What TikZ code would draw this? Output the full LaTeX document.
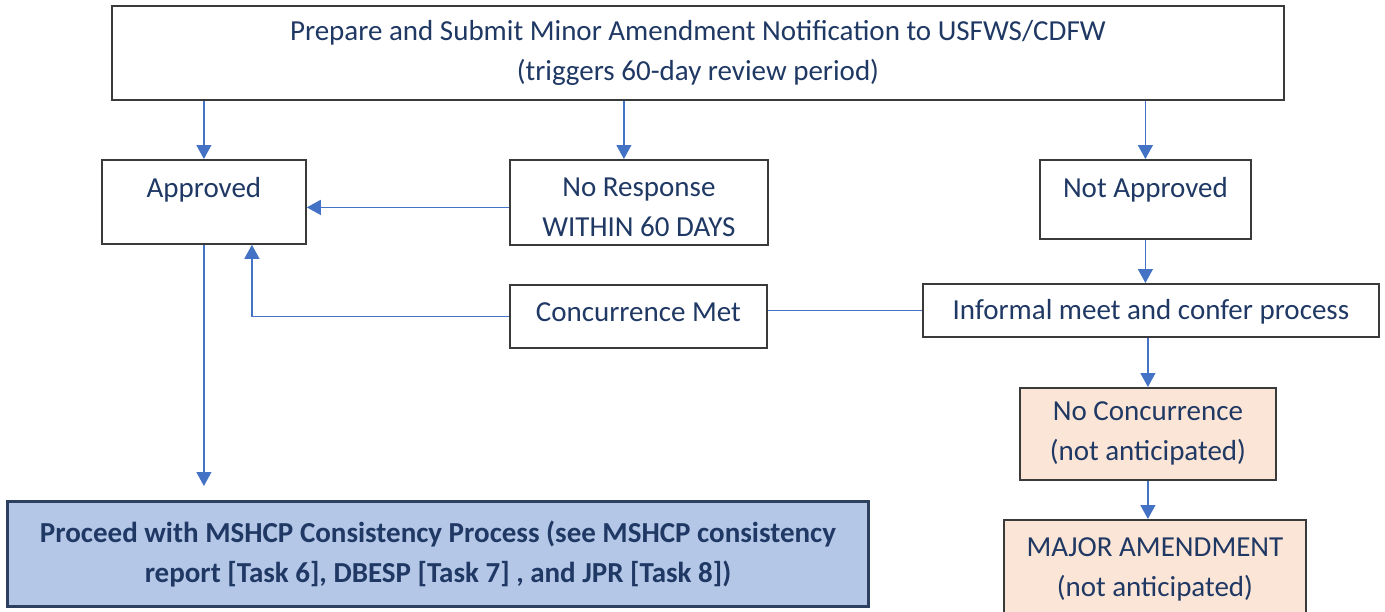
\documentclass[tikz,border=0pt]{standalone}
\usepackage{fontspec}
\setmainfont{Carlito}
\usetikzlibrary{arrows.meta,calc}

\definecolor{flow}{HTML}{4472C4}
\definecolor{ink}{HTML}{1F3864}
\definecolor{boxline}{HTML}{3A3A3A}
\definecolor{peach}{HTML}{FBE5D6}
\definecolor{pale}{HTML}{B4C7E7}
\definecolor{deep}{HTML}{2E4060}

\newcommand\bodyfont{\fontsize{14.5}{20}\selectfont}

\tikzset{
  box/.style={draw=boxline, line width=0.9pt, fill=white, text=ink,
    font=\bodyfont, inner sep=0pt, anchor=north west, align=center},
  arr/.style={draw=flow, line width=0.6pt, -{Triangle[length=7pt,width=7.5pt]}},
  link/.style={draw=flow, line width=0.6pt}
}

\begin{document}
\begin{tikzpicture}[x=0.5pt,y=-0.5pt]
\useasboundingbox (0,0) rectangle (1385,611);

% boxes
\node[box, minimum width=586pt, minimum height=47pt] (notify) at (111,5)
  {Prepare and Submit Minor Amendment Notification to USFWS/CDFW\\(triggers 60-day review period)};
\node[box, minimum width=102pt, text height=19pt, text depth=23pt] (approved) at (101,159) {Approved};
\node[box, minimum width=129pt, text height=38.5pt, text depth=4pt] (noresp) at (509,159)
  {No Response\\WITHIN 60 DAYS};
\node[box, minimum width=105.5pt, text height=19pt, text depth=20.5pt] (notappr) at (1039,159) {Not Approved};
\node[box, minimum width=128.5pt, text height=18.5pt, text depth=13pt] (concur) at (509,284) {Concurrence Met};
\node[box, minimum width=228pt, text height=18pt, text depth=8.5pt] (informal) at (922,283)
  {Informal meet and confer process};
\node[box, fill=peach, minimum width=128pt, minimum height=46pt] (noconc) at (1019,387)
  {No Concurrence\\(not anticipated)};
\node[box, fill=peach, minimum width=151pt, minimum height=49.5pt] (major) at (1003,519)
  {MAJOR AMENDMENT\\(not anticipated)};
\node[box, fill=pale, draw=deep, line width=1.5pt, minimum width=430.5pt, minimum height=52.5pt,
  font=\bodyfont\bfseries] (proceed) at (6,500)
  {Proceed with MSHCP Consistency Process (see MSHCP consistency\\report [Task 6], DBESP [Task 7] , and JPR [Task 8])};

% connectors
\draw[arr] (notify.south -| approved.north) -- (approved.north);
\draw[arr] ($(notify.south -| noresp.north)+(-7.5pt,0)$) -- ($(noresp.north)+(-7.5pt,0)$);
\draw[arr] (notify.south -| notappr.north) -- (notappr.north);

\coordinate (late) at ([yshift=-2.5pt]noresp.west);
\draw[arr] (late) -- (late -| approved.east);
\draw[arr] (concur.west) -| ([xshift=24pt]approved.south);
\draw[link] (informal.west) -- (informal.west -| concur.east);

\draw[arr] (notappr.south) -- (notappr.south |- informal.north);
\draw[arr] (noconc.north |- informal.south) -- (noconc.north);
\draw[arr] (noconc.south) -- (noconc.south |- major.north);
\draw[arr] (approved.south) -- ($(approved.south |- proceed.north)+(0,7pt)$);

\end{tikzpicture}
\end{document}
